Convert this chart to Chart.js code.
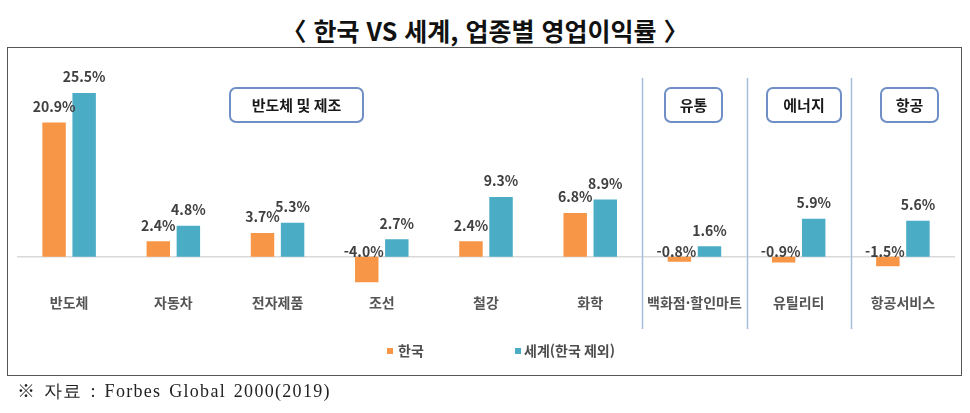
<!DOCTYPE html>
<html lang="ko">
<head>
<meta charset="utf-8">
<script src="https://cdn.jsdelivr.net/npm/chart.js@4.4.1/dist/chart.umd.min.js"></script>
<style>
    body { margin: 0; background: #fff; width: 970px; height: 413px; position: relative; overflow: hidden; font-family: "Noto Sans CJK KR", sans-serif; }
    #title { position: absolute; left: 0; top: 13px; width: 970px; text-align: center; font-size: 25px; font-weight: 700; line-height: 34px; color: #111; }
    #frame { position: absolute; left: 7px; top: 47px; width: 953px; height: 327px; border: 1.5px solid #555; }
    #chart { position: absolute; left: 0; top: 0; }
    #source { position: absolute; left: 17px; top: 381px; font-family: "Liberation Serif", serif; font-size: 18px; line-height: 21px; letter-spacing: 1.3px; word-spacing: 2px; color: #222; }
</style>
</head>
<body>
<div id="title">〈 한국 VS 세계, 업종별 영업이익률 〉</div>
<div id="frame"></div>
<canvas id="chart" width="970" height="413"></canvas>
<div id="source">※ 자료 : Forbes Global 2000(2019)</div>

<script>
// categories and values (%)
const categories = ['반도체', '자동차', '전자제품', '조선', '철강', '화학', '백화점·할인마트', '유틸리티', '항공서비스'];
const korea = [20.9, 2.4, 3.7, -4.0, 2.4, 6.8, -0.8, -0.9, -1.5];
const world = [25.5, 4.8, 5.3, 2.7, 9.3, 8.9, 1.6, 5.9, 5.6];
const seriesNames = ['한국', '세계(한국 제외)'];
const groupNames = ['반도체 및 제조', '유통', '에너지', '항공'];

const labelColor = '#404040';

// zero line + separators between sector groups
const guides = {
    id: 'guides',
    beforeDatasetsDraw(chart) {
        const ctx = chart.ctx;
        const x = chart.scales.x, y = chart.scales.y;
        const zero = y.getPixelForValue(0);
        ctx.save();
        ctx.strokeStyle = '#d9d9d9';
        ctx.lineWidth = 1.5;
        ctx.beginPath();
        ctx.moveTo(chart.chartArea.left, zero);
        ctx.lineTo(chart.chartArea.right, zero);
        ctx.stroke();

        ctx.strokeStyle = '#a8bcdc';
        [5.5, 6.5, 7.5].forEach(function (v) {
            const px = Math.round(x.getPixelForValue(v)) + 0.5;
            ctx.beginPath();
            ctx.moveTo(px, 78);
            ctx.lineTo(px, 329);
            ctx.stroke();
        });
        ctx.restore();
    }
};

// value labels above bars
const valueLabels = {
    id: 'valueLabels',
    afterDatasetsDraw(chart) {
        const ctx = chart.ctx;
        const zero = chart.scales.y.getPixelForValue(0);
        ctx.save();
        ctx.font = 'bold 14px "Noto Sans CJK KR", sans-serif';
        ctx.fillStyle = labelColor;
        ctx.textAlign = 'center';
        ctx.textBaseline = 'middle';
        chart.data.datasets.forEach(function (ds, i) {
            chart.getDatasetMeta(i).data.forEach(function (bar, j) {
                const v = ds.data[j];
                const txt = v.toFixed(1) + '%';
                if (v >= 0) {
                    ctx.fillText(txt, bar.x, bar.y - 16);
                } else {
                    ctx.fillText(txt, bar.x - 3, zero - 5);
                }
            });
        });
        ctx.restore();
    }
};

// boxed group titles + legend
const extras = {
    id: 'extras',
    afterDraw(chart) {
        const ctx = chart.ctx;
        const boxes = [
            [230, 88, 133, 34],
            [665, 88, 57, 34],
            [767, 88, 74, 34],
            [881, 88, 57, 34]
        ];
        ctx.save();
        ctx.lineWidth = 2;
        ctx.strokeStyle = '#6f8fc6';
        ctx.fillStyle = '#fff';
        boxes.forEach(function (b, i) {
            ctx.beginPath();
            ctx.roundRect(b[0], b[1], b[2], b[3], 6);
            ctx.fill();
            ctx.stroke();
        });
        ctx.fillStyle = '#1a1a1a';
        ctx.font = 'bold 15px "Noto Sans CJK KR", sans-serif';
        ctx.textAlign = 'center';
        ctx.textBaseline = 'middle';
        boxes.forEach(function (b, i) {
            ctx.fillText(groupNames[i], b[0] + b[2] / 2, b[1] + b[3] / 2);
        });

        // legend
        const items = [[387, 398], [515, 524]];
        ctx.font = 'bold 14px "Noto Sans CJK KR", sans-serif';
        ctx.textAlign = 'left';
        chart.data.datasets.forEach(function (ds, i) {
            ctx.fillStyle = ds.backgroundColor;
            ctx.fillRect(items[i][0], 348, 6, 6);
            ctx.fillStyle = '#4d4d4d';
            ctx.fillText(ds.label, items[i][1], 351);
        });
        ctx.restore();
    }
};

new Chart(document.getElementById('chart'), {
    type: 'bar',
    data: {
        labels: categories,
        datasets: [
            { label: seriesNames[0], data: korea, backgroundColor: '#F79646' },
            { label: seriesNames[1], data: world, backgroundColor: '#4BACC6' }
        ]
    },
    options: {
        responsive: false,
        animation: false,
        categoryPercentage: 0.577,
        barPercentage: 0.78,
        layout: { padding: { top: 77, bottom: 93.7, left: 17, right: 15 } },
        plugins: {
            legend: { display: false },
            tooltip: { enabled: false }
        },
        scales: {
            x: {
                grid: { display: false, drawTicks: false },
                border: { display: false },
                ticks: {
                    color: '#555',
                    font: { family: '"Noto Sans CJK KR", sans-serif', size: 14, weight: 'bold' },
                    padding: 8.5,
                    maxRotation: 0,
                    autoSkip: false
                }
            },
            y: {
                display: false,
                min: -4.5,
                max: 28
            }
        }
    },
    plugins: [guides, valueLabels, extras]
});
</script>
</body>
</html>
